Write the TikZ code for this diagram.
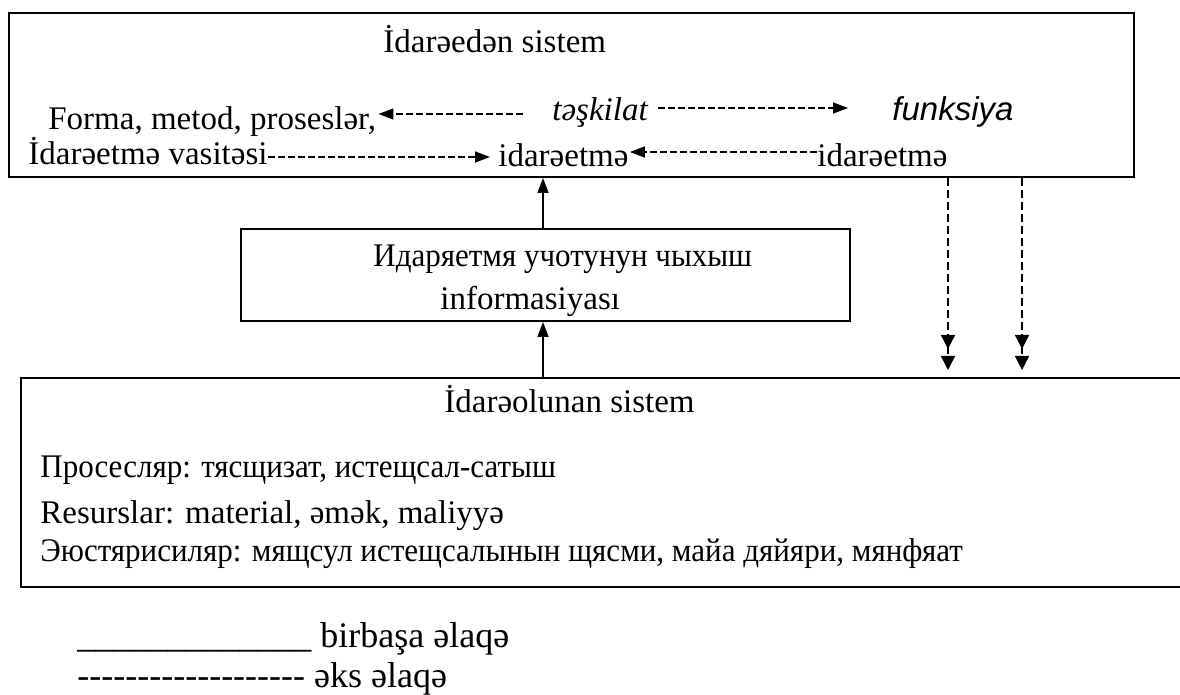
\documentclass[tikz,border=0pt]{standalone}
\usepackage{fontspec}
\setmainfont{Liberation Serif}
\newfontfamily\arialf{Liberation Sans}
\newfontfamily\cyr{Liberation Serif}[FakeStretch=0.94]
\newcommand\hyph{-\kern0pt}
\usetikzlibrary{arrows.meta}
\begin{document}
\begin{tikzpicture}[x=0.5pt,y=-0.5pt,
  box/.style={draw, line width=1pt, anchor=north west, inner sep=0pt},
  txt/.style={inner sep=0pt, anchor=base west, font=\fontsize{16.5pt}{20pt}\selectfont},
  ctxt/.style={inner sep=0pt, anchor=base west, font=\fontsize{16.5pt}{20pt}\selectfont\cyr},
  leg/.style={inner sep=0pt, anchor=base west, font=\fontsize{18pt}{22pt}\selectfont},
  tipA/.tip={Triangle[length=7.5pt,width=5.5pt]},
  dasharrow/.style={line width=0.7pt, dash pattern=on 3.3pt off 1.7pt, -tipA},
  dbl/.style={line width=0.7pt, dash pattern=on 4pt off 2pt, -{Triangle[length=7pt,width=7pt,sep=3.5pt]Triangle[length=7pt,width=7pt]}},
  solidarrow/.style={line width=0.75pt, -tipA}]
\clip (0,0) rectangle (1180,695);
\fill[white] (0,0) rectangle (1180,695);

% boxes
\node[box, minimum width=562.5pt, minimum height=82pt] (top) at (8,12) {};
\node[box, minimum width=304.5pt, minimum height=46pt] (mid) at (240,228) {};
\node[box, minimum width=590pt, minimum height=104.5pt] (bot) at (20,377) {};

% top box texts
\node[txt] (ttl) at (383,53) {İdarəedən sistem};
\node[txt] (forma) at (48,130) {Forma, metod, proseslər,};
\node[txt, font=\fontsize{16.5pt}{20pt}\selectfont\itshape] (tsk) at (552,121) {təşkilat};
\node[txt, font=\fontsize{16.5pt}{20pt}\selectfont\arialf\itshape] (fnk) at (892,121) {funksiya};
\node[txt] (ivas) at (28,165) {İdarəetmə vasitəsi};
\node[txt] (id1) at (498,167) {idarəetmə};
\node[txt] (id2) at (817,167) {idarəetmə};

% middle box texts
\node[ctxt] (m1) at (373,267) {Идаряетмя учотунун чыхыш};
\node[txt] (m2) at (440,310) {informasiyası};

% bottom box texts
\node[txt] (bttl) at (444,413) {İdarəolunan sistem};
\node[ctxt] (b1) at (40,478) {Просесляр: тясщизат, истещсал-сатыш};
\node[txt] (b2) at (40,524) {Resurslar: material, əmək, maliyyə};
\node[ctxt] (b3) at (40,562) {Эюстярисиляр: мящсул истещсалынын щясми, майа дяйяри, мянфяат};

% legend
\node[leg] (l1) at (77,647) {\_\_\_\_\_\_\_\_\_\_\_\_\_ birbaşa əlaqə};
\node[leg] (l2) at (77,688) {\hyph\hyph\hyph\hyph\hyph\hyph\hyph\hyph\hyph\hyph\hyph\hyph\hyph\hyph\hyph\hyph\hyph\hyph\hyph{} əks əlaqə};

% dashed arrows inside top box
\draw[dasharrow] ([xshift=-14.5pt,yshift=3.5pt]tsk.base west) -- ([xshift=1pt,yshift=8pt]forma.base east);
\draw[dasharrow] ([xshift=5pt,yshift=6.5pt]tsk.base east) -- ([xshift=-22pt,yshift=6.5pt]fnk.base west);
\draw[dasharrow] ([yshift=4pt]ivas.base east) -- ([xshift=-4pt,yshift=5pt]id1.base west);
\draw[dasharrow] ([yshift=7.5pt]id2.base west) -- ([xshift=0.5pt,yshift=7.5pt]id1.base east);

% solid arrows
\coordinate (ax) at (543,0);
\draw[solidarrow] (bot.north -| ax) -- (mid.south -| ax);
\draw[solidarrow] (mid.north -| ax) -- (top.south -| ax);

% double-headed dashed arrows
\coordinate (d1) at (948,370);
\coordinate (d2) at (1022,370);
\draw[dbl] (top.south -| d1) -- (d1);
\draw[dbl] (top.south -| d2) -- (d2);
\end{tikzpicture}
\end{document}
